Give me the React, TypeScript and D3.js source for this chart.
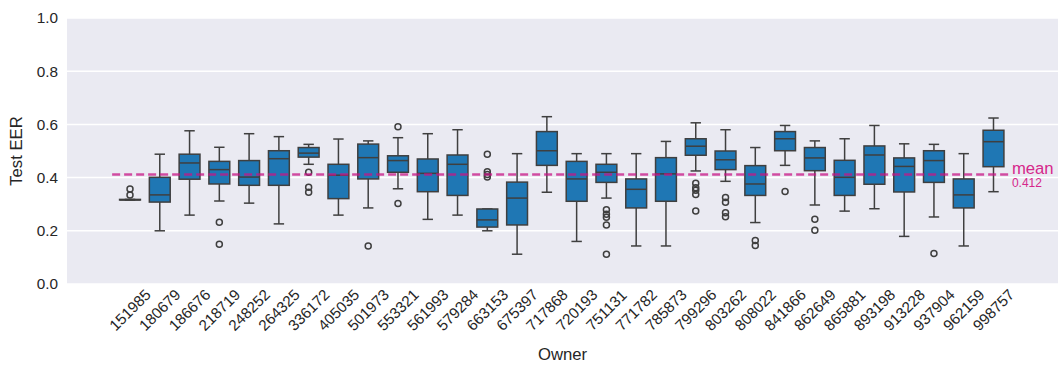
import React, { useEffect, useRef } from 'react';
import * as d3 from 'd3';

const owners = [
  '151985', '180679', '186676', '218719', '248252', '264325', '336172', '405035',
  '501973', '553321', '561993', '579284', '663153', '675397', '717868', '720193',
  '751131', '771782', '785873', '799296', '803262', '808022', '841866', '862649',
  '865881', '893198', '913228', '937904', '962159', '998757',
];

const whiskerLow = [
  0.316, 0.200, 0.259, 0.312, 0.304, 0.226, 0.450, 0.259, 0.286, 0.358, 0.243, 0.259, 0.200, 0.112, 0.345,
  0.160, 0.323, 0.143, 0.143, 0.425, 0.386, 0.231, 0.446, 0.297, 0.274, 0.283, 0.179, 0.252, 0.143, 0.347,
];
const q1 = [
  0.316, 0.308, 0.394, 0.376, 0.371, 0.371, 0.477, 0.321, 0.395, 0.420, 0.347, 0.333, 0.214, 0.222, 0.446,
  0.311, 0.382, 0.286, 0.311, 0.484, 0.430, 0.333, 0.501, 0.426, 0.333, 0.375, 0.346, 0.382, 0.286, 0.441,
];
const medians = [
  0.316, 0.335, 0.455, 0.430, 0.402, 0.471, 0.492, 0.409, 0.475, 0.464, 0.416, 0.450, 0.241, 0.323, 0.501,
  0.395, 0.420, 0.356, 0.414, 0.518, 0.467, 0.376, 0.546, 0.474, 0.401, 0.485, 0.442, 0.464, 0.335, 0.535,
];
const q3 = [
  0.318, 0.401, 0.488, 0.461, 0.464, 0.501, 0.513, 0.450, 0.526, 0.482, 0.470, 0.485, 0.282, 0.383, 0.573,
  0.461, 0.450, 0.395, 0.475, 0.546, 0.500, 0.445, 0.573, 0.513, 0.465, 0.519, 0.474, 0.501, 0.395, 0.578,
];
const whiskerHigh = [
  0.318, 0.488, 0.576, 0.514, 0.565, 0.554, 0.525, 0.545, 0.538, 0.550, 0.565, 0.580, 0.282, 0.490, 0.629,
  0.490, 0.490, 0.490, 0.536, 0.606, 0.580, 0.513, 0.596, 0.538, 0.546, 0.596, 0.527, 0.525, 0.490, 0.624,
];
const outliers: number[][] = [
  [0.357, 0.335], [], [], [0.232, 0.149], [], [], [0.420, 0.364, 0.345], [],
  [0.143], [0.591, 0.303], [], [], [0.488, 0.422, 0.412, 0.402], [], [],
  [], [0.279, 0.262, 0.251, 0.222, 0.112], [], [], [0.379, 0.362, 0.352, 0.336, 0.274],
  [0.325, 0.307, 0.268, 0.253], [0.164, 0.145], [0.348], [0.243, 0.202],
  [], [], [], [0.115], [], [],
];

const meanValue = 0.412;
const yTicks = [0, 0.2, 0.4, 0.6, 0.8, 1.0];

const App = () => {
  const ref = useRef<SVGSVGElement>(null);

  useEffect(() => {
    const svg = d3.select(ref.current);
    svg.selectAll('*').remove();

    const width = 1058;
    const height = 365;
    const left = 67, right = 1058, top = 18, bottom = 284;
    const font = '"Liberation Sans", Arial, sans-serif';
    const edge = '#3f3f3f';
    const tickSize = 15.3;
    const labelSize = 16.7;

    // scales
    const x = d3.scalePoint<string>().domain(owners).range([130, 993.5]);
    const step = x.step();
    const boxW = step * 0.7;
    const y = d3.scaleLinear().domain([0, 1]).range([bottom, top]);

    svg.attr('width', width).attr('height', height);

    // background + grid
    svg.append('rect')
      .attr('x', left).attr('y', top)
      .attr('width', right - left).attr('height', bottom - top)
      .attr('fill', '#eaeaf2');

    svg.append('g')
      .selectAll('line')
      .data(yTicks)
      .enter()
      .append('line')
      .attr('x1', left).attr('x2', right)
      .attr('y1', d => y(d)).attr('y2', d => y(d))
      .attr('stroke', '#fff').attr('stroke-width', 1.5);

    // y tick labels
    svg.append('g')
      .selectAll('text')
      .data(yTicks)
      .enter()
      .append('text')
      .attr('x', left - 9)
      .attr('y', d => y(d))
      .attr('dy', '0.35em')
      .attr('text-anchor', 'end')
      .attr('font-family', font).attr('font-size', tickSize)
      .attr('fill', '#262626')
      .text(d => d.toFixed(1));

    // x tick labels, rotated 45
    svg.append('g')
      .selectAll('text')
      .data(owners)
      .enter()
      .append('text')
      .attr('transform', d => `translate(${x(d)},310) rotate(-45)`)
      .attr('text-anchor', 'middle')
      .attr('dy', '0.35em')
      .attr('font-family', font).attr('font-size', tickSize)
      .attr('fill', '#262626')
      .text(d => d);

    // axis titles
    svg.append('text')
      .attr('transform', `translate(22,${(top + bottom) / 2}) rotate(-90)`)
      .attr('text-anchor', 'middle')
      .attr('font-family', font).attr('font-size', labelSize)
      .attr('fill', '#262626')
      .text('Test EER');

    svg.append('text')
      .attr('x', (left + right) / 2).attr('y', 360)
      .attr('text-anchor', 'middle')
      .attr('font-family', font).attr('font-size', labelSize)
      .attr('fill', '#262626')
      .text('Owner');

    // boxes
    const boxes = svg.append('g')
      .selectAll('g')
      .data(owners)
      .enter()
      .append('g');

    boxes.append('line') // lower whisker
      .attr('x1', d => x(d)!).attr('x2', d => x(d)!)
      .attr('y1', (d, i) => y(whiskerLow[i])).attr('y2', (d, i) => y(q1[i]))
      .attr('stroke', edge).attr('stroke-width', 1.5);
    boxes.append('line') // upper whisker
      .attr('x1', d => x(d)!).attr('x2', d => x(d)!)
      .attr('y1', (d, i) => y(whiskerHigh[i])).attr('y2', (d, i) => y(q3[i]))
      .attr('stroke', edge).attr('stroke-width', 1.5);
    boxes.append('line') // caps
      .attr('x1', d => x(d)! - boxW / 4).attr('x2', d => x(d)! + boxW / 4)
      .attr('y1', (d, i) => y(whiskerLow[i])).attr('y2', (d, i) => y(whiskerLow[i]))
      .attr('stroke', edge).attr('stroke-width', 1.5);
    boxes.append('line')
      .attr('x1', d => x(d)! - boxW / 4).attr('x2', d => x(d)! + boxW / 4)
      .attr('y1', (d, i) => y(whiskerHigh[i])).attr('y2', (d, i) => y(whiskerHigh[i]))
      .attr('stroke', edge).attr('stroke-width', 1.5);
    boxes.append('rect')
      .attr('x', d => x(d)! - boxW / 2)
      .attr('y', (d, i) => y(q3[i]))
      .attr('width', boxW)
      .attr('height', (d, i) => y(q1[i]) - y(q3[i]))
      .attr('fill', '#1f77b4')
      .attr('stroke', edge).attr('stroke-width', 1.5);
    boxes.append('line') // median
      .attr('x1', d => x(d)! - boxW / 2).attr('x2', d => x(d)! + boxW / 2)
      .attr('y1', (d, i) => y(medians[i])).attr('y2', (d, i) => y(medians[i]))
      .attr('stroke', edge).attr('stroke-width', 1.5);

    boxes.each(function (d, i) {
      d3.select(this)
        .selectAll('circle')
        .data(outliers[i])
        .enter()
        .append('circle')
        .attr('cx', x(d)!)
        .attr('cy', v => y(v))
        .attr('r', 3)
        .attr('fill', 'none')
        .attr('stroke', edge).attr('stroke-width', 1.5);
    });

    // mean line
    const x0 = x(owners[0])! - 0.6 * step;
    const x1 = x(owners[owners.length - 1])! + 0.55 * step;
    svg.append('line')
      .attr('x1', x0).attr('x2', x1)
      .attr('y1', y(meanValue)).attr('y2', y(meanValue))
      .attr('stroke', '#c71585').attr('stroke-opacity', 0.75)
      .attr('stroke-width', 2.5)
      .attr('stroke-dasharray', '8,4');

    svg.append('text')
      .attr('x', x1 + 2).attr('y', y(meanValue) - 0.5)
      .attr('font-family', font).attr('font-size', labelSize)
      .attr('fill', '#d6278b')
      .text('mean');
    svg.append('text')
      .attr('x', x1 + 2).attr('y', y(meanValue) + 12.5)
      .attr('font-family', font).attr('font-size', 12)
      .attr('fill', '#d6278b')
      .text(meanValue.toFixed(3));
  }, []);

  return <svg ref={ref} style={{ position: 'absolute', left: 0, top: 0 }} />;
};

export default App;
